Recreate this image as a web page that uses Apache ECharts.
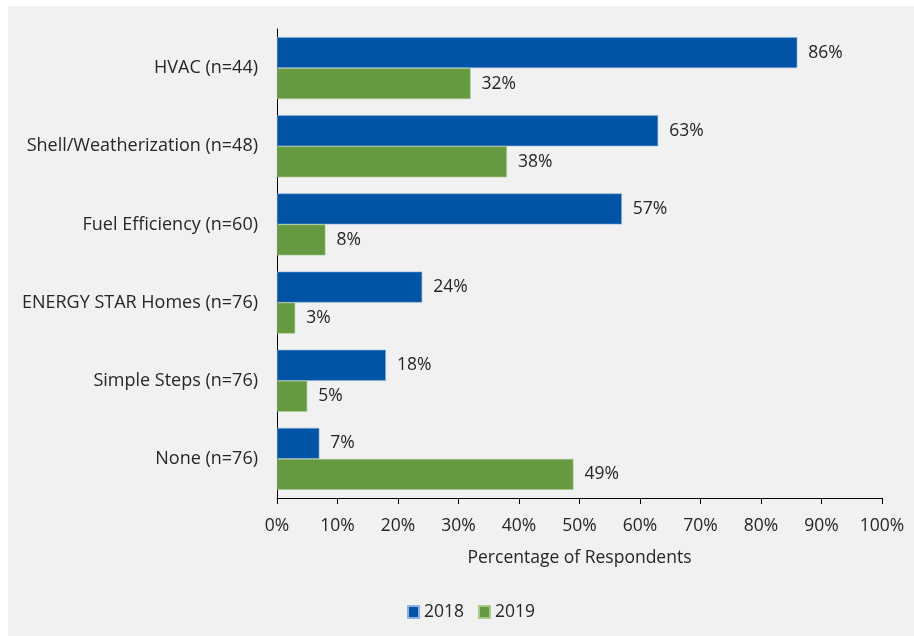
<!DOCTYPE html>
<html>
<head>
<meta charset="utf-8">
<script src="https://cdn.jsdelivr.net/npm/echarts@6/dist/echarts.min.js"></script>
<style>
  html, body { margin: 0; padding: 0; background: #ffffff; }
  #frame { position: absolute; left: 8px; top: 6px; width: 906px; height: 630px; background: #f1f1f1; }
  #chart { position: absolute; left: 0; top: 0; width: 914px; height: 636px; }
</style>
</head>
<body>
<div id="frame"></div>
<div id="chart"></div>
<script>
// Program categories, top to bottom
const categories = [
  'HVAC (n=44)',
  'Shell/Weatherization (n=48)',
  'Fuel Efficiency (n=60)',
  'ENERGY STAR Homes (n=76)',
  'Simple Steps (n=76)',
  'None (n=76)'
];
// Percentage of respondents per year
const values2018 = [86, 63, 57, 24, 18, 7];
const values2019 = [32, 38, 8, 3, 5, 49];
const seriesNames = ['2018', '2019'];
const xTicks = [0, 10, 20, 30, 40, 50, 60, 70, 80, 90, 100];

const FONT = '"Open Sans", "DejaVu Sans", sans-serif';
const TEXT = '#262626';
const colors = ['#0053a5', '#659a40'];

const chart = echarts.init(document.getElementById('chart'), null, { renderer: 'canvas' });

const labelStyle = {
  show: true,
  position: 'right',
  distance: 11,
  formatter: p => p.value + '%',
  color: TEXT,
  fontSize: 17.5,
  fontFamily: FONT
};

chart.setOption({
  backgroundColor: 'transparent',
  animation: false,
  grid: { left: 277, right: 32, top: 29, bottom: 138, containLabel: false },
  legend: {
    top: 598,
    left: 402,
    itemWidth: 11,
    itemHeight: 12,
    itemGap: 14,
    icon: 'rect',
    textStyle: { color: TEXT, fontSize: 17.5, fontFamily: FONT },
    data: seriesNames
  },
  xAxis: {
    type: 'value',
    min: 0,
    max: 100,
    interval: 10,
    name: 'Percentage of Respondents',
    nameLocation: 'middle',
    nameGap: 51,
    nameTextStyle: { color: TEXT, fontSize: 17.5, fontFamily: FONT },
    axisLine: { show: true, lineStyle: { color: '#000', width: 1 } },
    axisTick: { show: true, length: 6, lineStyle: { color: '#000' } },
    axisLabel: {
      margin: 19,
      color: TEXT,
      fontSize: 17.5,
      fontFamily: FONT,
      formatter: v => (xTicks.includes(v) ? v + '%' : '')
    },
    splitLine: { show: false }
  },
  yAxis: {
    type: 'category',
    data: categories,
    inverse: true,
    axisLine: { show: true, lineStyle: { color: '#000', width: 1 } },
    axisTick: { show: false },
    axisLabel: { margin: 19, color: TEXT, fontSize: 18, fontFamily: FONT }
  },
  series: [
    {
      name: seriesNames[0],
      type: 'bar',
      data: values2018,
      barWidth: 31,
      barGap: '0%',
      itemStyle: { color: colors[0], borderColor: '#8fb3dc', borderWidth: 0.6 },
      label: labelStyle
    },
    {
      name: seriesNames[1],
      type: 'bar',
      data: values2019,
      barWidth: 31,
      barGap: '0%',
      itemStyle: { color: colors[1], borderColor: '#a9c98f', borderWidth: 0.6 },
      label: labelStyle
    }
  ]
});
</script>
</body>
</html>
